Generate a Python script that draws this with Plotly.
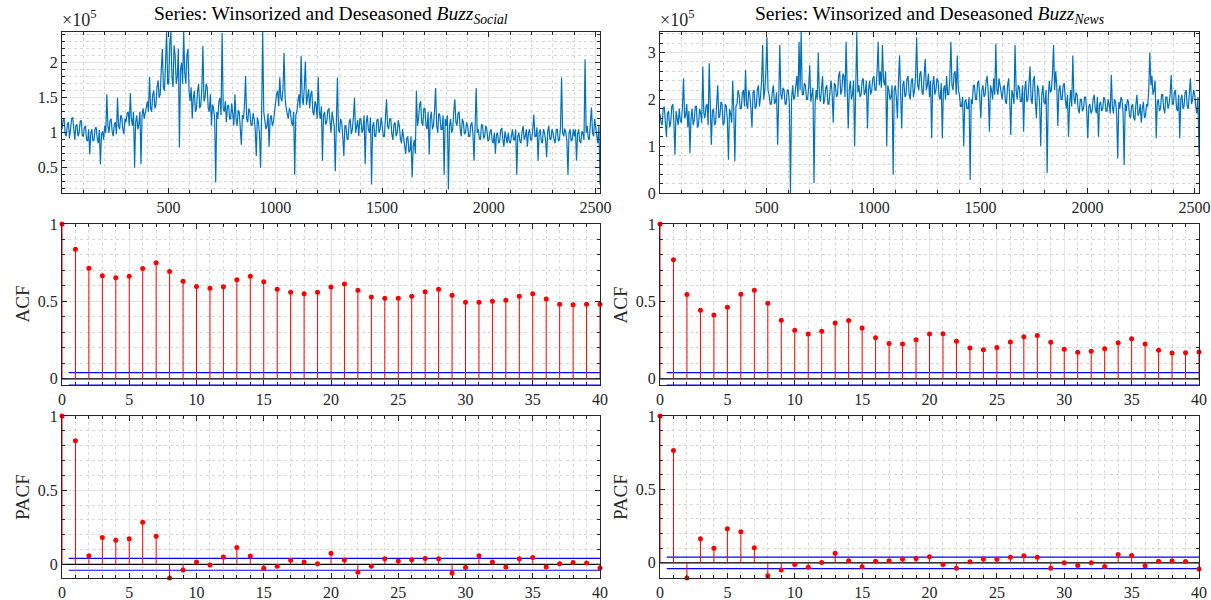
import plotly.graph_objects as go

# ---------------- data ----------------
# time series, sampled every 5 observations (values in units of 1e5)
series_step = 5
social_vals = [
    1.05,1.18,1.2,0.98,0.95,1.12,1.15,0.92,1.05,1.2,1.22,1.0,0.9,1.1,1.12,0.95,1.0,1.16,1.18,0.96,
    0.95,1.08,1.1,0.9,0.88,1.05,0.69,1.0,1.05,0.88,0.9,1.06,1.08,0.92,0.85,1.04,0.55,0.98,1.02,0.9,
    1.1,1.0,1.55,1.1,1.0,1.18,1.2,1.02,0.95,1.12,1.15,0.98,1.5,1.1,1.05,1.25,1.22,1.05,0.98,1.2,
    1.15,1.28,1.3,1.1,1.57,1.2,1.1,1.3,0.5,1.15,1.25,1.05,1.12,1.3,0.55,1.25,1.35,1.2,1.28,1.4,
    1.45,1.3,1.8,1.35,1.3,1.55,1.6,1.35,1.4,1.65,1.75,1.5,1.55,1.9,2.2,1.65,1.6,2.0,2.44,1.7,
    1.7,2.3,2.44,1.8,1.65,2.25,2.1,1.7,1.8,2.2,0.79,1.9,2.0,1.7,2.44,1.85,1.7,2.1,2.2,1.6,
    1.45,1.65,1.2,1.5,1.6,1.3,1.35,1.6,1.7,1.35,1.4,1.62,2.24,1.45,1.5,1.7,1.65,1.35,1.3,1.55,
    1.1,1.4,1.35,1.2,0.29,1.3,1.2,1.45,1.5,1.25,2.43,1.35,1.3,1.45,1.15,1.38,1.4,1.2,1.2,1.42,
    1.25,1.1,1.55,1.2,1.1,1.32,1.3,1.12,0.83,1.25,1.2,1.4,1.81,1.2,1.15,1.35,1.3,1.12,1.1,1.28,
    1.2,1.05,0.67,1.22,1.15,1.0,0.5,1.25,2.44,1.3,1.2,1.05,1.1,1.28,0.8,1.2,1.25,1.1,1.15,1.3,
    1.4,1.55,1.6,1.38,1.79,1.5,1.45,1.62,2.14,1.5,1.35,1.25,1.2,1.35,1.3,1.15,1.1,1.3,0.4,1.25,
    1.3,1.45,1.55,1.35,2.1,1.5,1.4,1.65,2.02,1.4,1.5,1.62,1.35,1.55,1.6,1.3,1.25,1.45,1.4,1.2,
    1.8,1.3,1.2,1.38,0.6,1.25,1.3,1.12,1.15,1.32,1.35,1.15,1.0,1.3,1.2,1.1,0.45,1.2,1.79,1.05,
    1.0,1.2,1.15,0.95,0.67,1.1,1.1,0.92,0.9,1.15,1.2,0.98,1.05,1.22,1.5,1.0,1.1,1.18,0.95,1.2,
    1.2,1.0,1.05,1.25,0.55,1.15,1.25,1.05,1.0,1.22,0.26,1.1,1.15,0.95,0.95,1.18,1.2,1.0,1.05,1.22,
    1.1,0.95,0.95,1.15,1.48,1.1,1.05,1.2,1.2,0.98,0.9,1.12,1.15,0.95,1.0,1.18,1.1,0.92,0.85,1.05,
    0.9,0.75,0.7,0.92,0.95,0.72,0.75,0.95,0.36,0.8,0.9,0.7,1.6,1.1,1.2,1.4,1.45,1.15,1.1,1.35,
    1.35,1.1,1.05,1.3,0.69,1.2,1.3,1.05,1.1,1.32,1.64,1.1,1.0,1.28,1.25,1.05,1.05,1.25,0.4,1.2,
    1.1,1.25,0.19,1.1,1.2,1.0,1.05,1.3,1.48,1.15,1.1,1.28,1.3,1.05,0.95,1.2,1.15,0.98,1.0,1.15,
    1.1,0.95,0.95,1.12,1.15,0.98,0.6,1.1,1.64,1.0,1.05,0.92,0.9,1.12,1.1,0.92,0.95,1.1,1.05,0.88,
    0.9,1.02,1.05,0.88,0.85,1.0,0.7,0.98,1.0,0.85,0.88,1.04,1.07,0.9,0.8,1.02,0.95,0.85,1.0,0.88,
    0.85,1.0,1.05,0.9,0.9,1.05,0.4,0.95,1.0,0.88,0.85,1.02,1.1,0.9,0.95,1.05,0.8,1.0,1.05,0.9,
    0.9,1.05,1.26,0.95,0.95,1.08,0.6,1.0,1.05,0.88,0.85,1.05,1.0,0.9,0.65,1.02,1.1,0.92,0.9,1.05,
    1.0,0.9,0.85,1.05,1.05,0.88,0.9,1.08,1.79,1.0,0.95,1.06,1.0,0.88,0.4,1.0,1.05,0.88,0.9,1.05,
    0.95,1.05,0.6,0.98,1.05,0.88,0.85,1.02,1.0,0.9,2.05,1.0,1.1,0.92,0.9,1.15,1.36,1.0,0.95,1.2,
    1.05,0.9,0.85,1.1,0.26,
]
news_vals = [
    1.7,1.5,1.45,1.8,1.85,1.45,1.2,1.7,1.75,1.4,1.5,1.85,1.9,1.5,0.82,1.75,1.6,1.45,1.8,1.55,
    1.5,1.85,2.45,1.6,1.65,1.9,1.4,1.75,0.85,1.6,1.8,1.45,1.55,1.85,1.85,1.4,1.45,1.8,1.7,1.5,
    2.7,1.7,1.6,1.85,1.9,1.45,2.77,1.6,1.03,1.75,1.8,1.45,1.5,1.9,2.3,1.6,1.65,1.95,1.9,1.45,
    1.5,1.9,1.85,1.55,0.71,1.8,1.7,1.5,2.4,1.75,0.68,1.85,1.9,2.2,2.1,1.8,1.8,2.15,2.2,1.85,
    2.62,1.9,1.8,2.2,2.1,1.8,1.4,2.15,2.2,1.8,1.85,2.2,2.3,1.85,2.05,2.4,3.16,2.0,2.2,2.6,
    3.33,2.2,2.1,1.9,1.9,2.15,2.3,1.9,1.95,2.15,1.03,2.0,3.16,2.1,2.0,2.25,2.2,1.9,1.9,2.2,
    2.2,1.9,0.0,2.0,2.3,2.0,2.05,2.3,2.5,2.05,3.23,2.2,3.44,2.1,2.1,2.35,2.3,2.0,2.0,2.25,
    2.73,1.95,2.1,2.25,0.21,1.9,2.2,2.0,3.0,2.1,1.95,2.3,2.5,1.9,2.0,2.25,2.3,1.9,1.9,2.2,
    2.4,2.1,1.5,2.35,2.3,2.05,2.1,2.5,2.6,2.1,2.2,2.55,2.5,2.05,3.23,2.3,1.38,2.2,2.4,2.0,
    2.1,2.4,1.0,2.2,3.44,2.15,2.3,2.05,2.1,2.4,2.45,2.1,2.15,2.4,1.38,2.2,2.4,2.1,2.2,2.45,
    2.5,2.2,2.2,2.6,3.23,2.3,2.6,2.25,3.16,2.4,2.3,2.6,1.0,2.3,2.2,2.0,2.05,2.3,0.39,2.2,
    2.3,2.05,1.6,2.4,2.94,2.1,1.38,2.3,2.4,2.05,2.1,2.45,2.5,2.1,2.0,2.4,2.45,2.05,2.2,2.5,
    3.33,2.3,2.2,2.55,2.6,2.15,2.1,2.5,2.87,2.2,2.3,2.55,2.05,2.4,1.17,2.3,2.5,2.1,2.2,2.45,
    2.4,2.05,2.0,2.35,1.17,2.2,2.3,2.0,2.5,2.1,2.1,2.45,3.23,2.3,2.2,2.55,2.6,2.1,2.94,2.2,
    2.1,1.85,1.85,2.05,1.0,1.95,2.0,1.8,1.8,2.05,0.28,2.0,1.9,2.3,2.3,2.0,2.0,2.35,2.4,2.05,
    1.6,2.2,2.3,2.05,2.1,2.4,2.5,2.1,1.31,2.3,2.2,2.0,2.45,2.1,3.19,2.2,2.1,2.45,2.3,2.05,
    2.0,2.25,2.3,1.95,1.9,2.3,2.45,2.0,1.24,2.2,2.1,1.9,3.16,2.2,2.0,2.3,2.25,1.95,1.95,2.3,
    1.31,2.2,2.4,1.95,2.0,2.35,2.7,2.0,1.9,2.4,2.5,1.95,1.6,2.3,2.2,1.9,1.0,2.1,2.3,1.95,
    1.9,2.2,0.43,2.0,2.4,2.15,2.2,2.55,3.16,2.2,2.6,2.3,1.43,2.2,2.3,2.0,2.0,2.3,2.35,2.0,
    1.8,2.1,1.2,1.9,2.2,1.85,2.94,2.05,1.9,2.15,2.1,1.8,1.7,2.0,2.0,1.75,1.8,2.05,2.05,1.75,
    1.17,1.85,1.9,1.7,1.75,2.0,2.1,1.8,1.7,2.05,1.2,1.9,1.95,1.75,1.8,2.05,2.0,1.75,1.75,2.0,
    1.9,1.7,2.52,1.85,1.7,2.0,1.95,1.7,0.74,1.95,1.8,2.05,2.0,1.7,0.6,1.9,1.75,2.0,1.95,1.65,
    1.6,1.85,1.9,1.6,1.55,1.9,2.1,1.65,1.7,1.9,1.5,1.8,1.95,1.6,1.65,1.9,1.85,2.2,3.0,2.3,
    2.5,2.1,2.2,2.4,1.17,1.95,2.0,1.75,1.8,2.1,2.1,1.8,1.7,2.05,2.05,1.8,1.9,2.1,2.52,1.9,
    1.9,2.15,2.2,1.8,1.75,2.1,1.17,2.0,2.1,1.8,1.85,2.15,2.2,1.85,1.8,2.15,2.45,1.9,2.0,2.2,
    2.1,1.85,1.7,2.05,0.78,
]

lags = list(range(41))
acf_social = [1.0, 0.837, 0.715, 0.666, 0.653, 0.662, 0.713, 0.749, 0.694, 0.63,
              0.597, 0.585, 0.595, 0.64, 0.662, 0.627, 0.578, 0.559, 0.55, 0.559,
              0.593, 0.612, 0.572, 0.529, 0.52, 0.52, 0.533, 0.563, 0.578, 0.54,
              0.495, 0.495, 0.501, 0.507, 0.533, 0.55, 0.516, 0.482, 0.478, 0.482,
              0.482]
pacf_social = [1.0, 0.834, 0.058, 0.181, 0.163, 0.172, 0.284, 0.19, -0.092, -0.038,
               0.016, -0.004, 0.049, 0.114, 0.056, -0.027, -0.013, 0.027, 0.016, 0.004,
               0.074, 0.029, -0.054, -0.013, 0.038, 0.022, 0.031, 0.04, 0.038, -0.058,
               -0.022, 0.058, 0.016, -0.018, 0.038, 0.047, -0.018, 0.004, 0.013, 0.009,
               -0.025]
acf_news = [1.0, 0.769, 0.544, 0.443, 0.413, 0.463, 0.546, 0.572, 0.488, 0.379,
            0.313, 0.289, 0.308, 0.36, 0.377, 0.328, 0.266, 0.229, 0.225, 0.253,
            0.289, 0.291, 0.242, 0.199, 0.188, 0.203, 0.238, 0.272, 0.28, 0.236,
            0.191, 0.171, 0.178, 0.195, 0.233, 0.259, 0.225, 0.184, 0.167, 0.169,
            0.173]
pacf_news = [1.0, 0.765, -0.103, 0.164, 0.1, 0.233, 0.212, 0.103, -0.087, -0.048,
             -0.011, -0.03, 0.002, 0.066, 0.014, -0.027, 0.011, 0.014, 0.027, 0.03,
             0.041, -0.011, -0.037, 0.007, 0.027, 0.025, 0.039, 0.048, 0.039, -0.037,
             0.0, -0.018, 0.0, -0.025, 0.057, 0.05, -0.02, 0.011, 0.014, 0.009,
             -0.041]
conf_bound = 0.0398

titles = ["Series: Winsorized and Deseasoned <i>Buzz</i><sub><i>Social</i></sub>",
          "Series: Winsorized and Deseasoned <i>Buzz</i><sub><i>News</i></sub>"]

# ---------------- layout helpers ----------------
W, H = 1211, 600
def fx(p):
    return p / W
def fy(p):
    return 1 - p / H

cols = [(62, 600), (660, 1199)]
rows = [(32, 193), (224, 385), (416, 578)]

FONT = "Liberation Serif, DejaVu Serif, serif"
AX = "#262626"
GRID = "#e4e4e4"
MGRID = "#d9d9d9"

fig = go.Figure()

def axis_style(dtick, minor_dtick, rng):
    return dict(range=rng, showline=True, linecolor=AX, linewidth=1.3, mirror="allticks",
                ticks="inside", ticklen=5, tickwidth=1, tickcolor=AX,
                showgrid=True, gridcolor=GRID, gridwidth=1, zeroline=False,
                automargin=False, tick0=0, dtick=dtick,
                tickfont=dict(family=FONT, size=16, color="#262626"),
                minor=dict(ticks="inside", ticklen=3, tickcolor=AX, dtick=minor_dtick,
                           showgrid=True, gridcolor=MGRID, griddash="dot", gridwidth=1),
                fixedrange=True)

series = [social_vals, news_vals]
acfs = [acf_social, acf_news]
pacfs = [pacf_social, pacf_news]
ts_yranges = [[0.14, 2.44], [0.0, 3.44]]
ts_ydticks = [(0.5, 0.1), (1, 0.2)]

layout = dict(width=W, height=H, margin=dict(l=0, r=0, t=0, b=0, autoexpand=False),
              paper_bgcolor="white", plot_bgcolor="white", showlegend=False)
annotations = []
axn = 0
for c, (x0, x1) in enumerate(cols):
    for r, (y0, y1) in enumerate(rows):
        axn += 1
        xa = "xaxis" if axn == 1 else f"xaxis{axn}"
        ya = "yaxis" if axn == 1 else f"yaxis{axn}"
        xref = "x" if axn == 1 else f"x{axn}"
        yref = "y" if axn == 1 else f"y{axn}"
        if r == 0:
            vals = series[c]
            n = len(vals)
            xs = [1 + series_step * i for i in range(n)]
            xstyle = axis_style(500, 100, [1, xs[-1]])
            ystyle = axis_style(ts_ydticks[c][0], ts_ydticks[c][1], ts_yranges[c])
            fig.add_trace(go.Scatter(x=xs, y=vals, mode="lines",
                                     line=dict(color="#0072BD", width=1.2),
                                     xaxis=xref, yaxis=yref, hoverinfo="skip"))
            annotations.append(dict(text=titles[c], xref="paper", yref="paper",
                                    x=fx((x0 + x1) / 2), y=fy(15), xanchor="center",
                                    yanchor="middle", showarrow=False,
                                    font=dict(family=FONT, size=19.5, color="black")))
            annotations.append(dict(text="×10<sup>5</sup>", xref="paper", yref="paper",
                                    x=fx(x0 - 2), y=fy(18), xanchor="left",
                                    yanchor="middle", showarrow=False,
                                    font=dict(family=FONT, size=18, color="#262626")))
        else:
            vals = acfs[c] if r == 1 else pacfs[c]
            lo = -conf_bound if r == 1 else min(vals)
            xstyle = axis_style(5, 1, [0, 40])
            ystyle = axis_style(0.5, 0.1, [lo, 1.0])
            fig.add_trace(go.Scatter(x=[0, 40], y=[0, 0], mode="lines",
                                     line=dict(color="black", width=1.4),
                                     xaxis=xref, yaxis=yref, hoverinfo="skip",
                                     cliponaxis=False))
            for b in (conf_bound, -conf_bound):
                fig.add_trace(go.Scatter(x=[0.5, 40], y=[b, b], mode="lines",
                                         line=dict(color="#0000FF", width=1.2),
                                         xaxis=xref, yaxis=yref, hoverinfo="skip",
                                         cliponaxis=False))
            sx, sy = [], []
            for L, v in zip(lags, vals):
                sx += [L, L, None]
                sy += [0, v, None]
            fig.add_trace(go.Scatter(x=sx, y=sy, mode="lines",
                                     line=dict(color="#FF0000", width=1),
                                     xaxis=xref, yaxis=yref, hoverinfo="skip",
                                     cliponaxis=False))
            fig.add_trace(go.Scatter(x=lags, y=vals, mode="markers",
                                     marker=dict(color="#FF0000", size=5),
                                     xaxis=xref, yaxis=yref, hoverinfo="skip",
                                     cliponaxis=False))
            label = "ACF" if r == 1 else "PACF"
            annotations.append(dict(text=label, xref="paper", yref="paper",
                                    x=fx(x0 - 40), y=fy((y0 + y1) / 2), xanchor="center",
                                    yanchor="middle", showarrow=False, textangle=-90,
                                    font=dict(family=FONT, size=19, color="#262626")))
        xstyle.update(domain=[fx(x0), fx(x1)], anchor=yref)
        ystyle.update(domain=[fy(y1), fy(y0)], anchor=xref)
        layout[xa] = xstyle
        layout[ya] = ystyle

layout["annotations"] = annotations
fig.update_layout(**layout)
fig.write_html("out.html", config={"displayModeBar": False},
               post_script="document.body.style.margin='0';document.body.style.overflow='hidden';")
